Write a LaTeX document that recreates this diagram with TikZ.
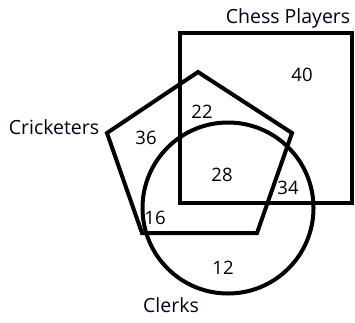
\documentclass[tikz,border=0pt]{standalone}
\usepackage{fontspec}
\setmainfont{Open Sans}
\usetikzlibrary{positioning}

\begin{document}
\begin{tikzpicture}[x=1pt, y=-1pt,
  set/.style={draw=black, line width=4pt, line join=miter},
  lab/.style={font=\fontsize{19.5}{21}\selectfont, text=black!90!blue, inner sep=0pt},
  num/.style={font=\fontsize{18.5}{20}\selectfont, inner sep=0pt}]
\useasboundingbox (0,0) rectangle (355,322);
% the three sets
\draw[set] (180,33) rectangle (352,203);
\draw[set] (198,72) -- (292,133) -- (257,233) -- (142,233) -- (107,133) -- cycle;
\draw[set] (228,208) circle[radius=85.5];
% set names
\node[lab] (chess) at (288,18) {Chess Players};
\node[lab] (crick) at (54,127) {Cricketers};
\node[lab] (clerk) at (171,305) {Clerks};
% counts
\node[num] (n40) at (302,75) {40};
\node[num] (n22) at (202,112) {22};
\node[num] (n36) at (146,138) {36};
\node[num] (n28) at (222,175) {28};
\node[num] (n34) at (288,188) {34};
\node[num] (n16) at (155,218) {16};
\node[num] (n12) at (223,268) {12};
\end{tikzpicture}
\end{document}
